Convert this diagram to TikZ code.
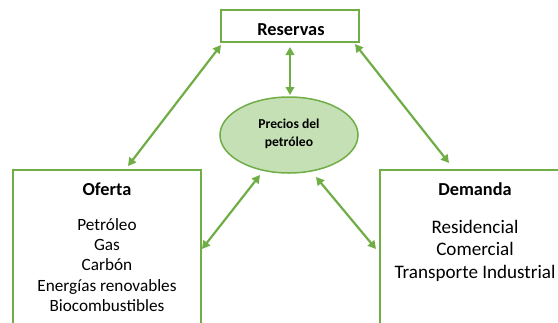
\documentclass[tikz,border=0pt]{standalone}
\usepackage{fontspec}
\setmainfont{Carlito}
\usetikzlibrary{arrows.meta,shapes.geometric}
\definecolor{grn}{HTML}{70AD47}
\definecolor{lgrn}{HTML}{C5E0B4}
\begin{document}
\begin{tikzpicture}[x=1pt,y=-1pt,
  box/.style={draw=grn,line width=1.6pt,fill=white,inner sep=0pt,outer sep=0pt},
  link/.style={draw=grn,line width=2.2pt,{Triangle[length=8pt,width=8.5pt]}-{Triangle[length=8pt,width=8.5pt]}},
  lbl/.style={anchor=base,inner sep=0pt,outer sep=0pt},
  ttl/.style={lbl,font=\fontsize{18.3}{22}\selectfont\bfseries},
  lst/.style={lbl,font=\fontsize{17.2}{20}\selectfont},
  lstd/.style={lbl,font=\fontsize{19.1}{22}\selectfont},
  pr/.style={lbl,font=\fontsize{13.6}{17}\selectfont\bfseries}]
\useasboundingbox (0,0) rectangle (558,322);
% boxes
\node[box,minimum width=138pt,minimum height=32pt] (res) at (290,26) {};
\node[box,minimum width=188pt,minimum height=170pt] (ofe) at (107,255) {};
\node[box,minimum width=200pt,minimum height=170pt] (dem) at (480,255) {};
\node[draw=grn,fill=lgrn,line width=1.5pt,ellipse,minimum width=138pt,minimum height=76pt,inner sep=0pt,outer sep=0pt] (prec) at (289,135) {};
% texts
\node[ttl] (tres) at (291,35) {Reservas};
\node[pr] (tp1) at (289,128.7) {Precios del};
\node[pr] (tp2) at (289,146.2) {petróleo};
\node[ttl] (tofe) at (107,195) {Oferta};
\node[lst] (o1) at (107,230) {Petróleo};
\node[lst] (o2) at (107,250.4) {Gas};
\node[lst] (o3) at (107,270.8) {Carbón};
\node[lst] (o4) at (107,291.2) {Energías renovables};
\node[lst] (o5) at (107,311.6) {Biocombustibles};
\node[ttl] (tdem) at (475,195) {Demanda};
\node[lstd] (d1) at (475,233.3) {Residencial};
\node[lstd] (d2) at (475,255.8) {Comercial};
\node[lstd] (d3) at (475,278.3) {Transporte Industrial};
% connectors
\draw[link] ([yshift=-3pt]res.south west) -- ([xshift=21pt,yshift=4pt]ofe.north);
\draw[link] ([xshift=-4pt,yshift=-2pt]res.south east) -- ([xshift=69pt,yshift=7pt]dem.north west);
\draw[link] ([yshift=-5pt]res.south) -- ([xshift=1pt,yshift=2pt]prec.north);
\draw[link] ([xshift=-29pt,yshift=-2pt]prec.south) -- ([xshift=1pt,yshift=-79pt]ofe.north east);
\draw[link] ([xshift=27pt,yshift=-4pt]prec.south) -- ([xshift=-4pt,yshift=-79pt]dem.north west);
\end{tikzpicture}
\end{document}
